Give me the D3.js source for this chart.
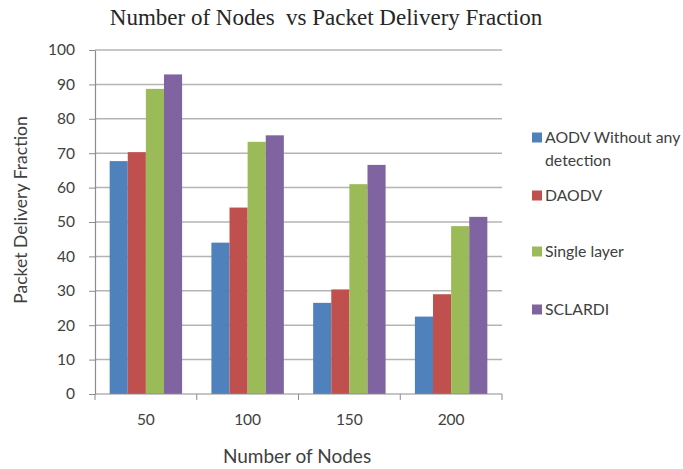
<!DOCTYPE html>
<html>
<head>
<meta charset="utf-8">
<script src="https://cdn.jsdelivr.net/npm/d3@7"></script>
<style>
  html, body { margin: 0; padding: 0; background: #fff; }
  svg { display: block; }
</style>
</head>
<body>
<svg id="chart" width="683" height="469"></svg>
<script>
// Packet delivery fraction per node count, four routing schemes
const categories = ["50", "100", "150", "200"];
const seriesNames = ["AODV Without any detection", "DAODV", "Single layer", "SCLARDI"];
const aodv    = [67.7, 44.0, 26.5, 22.5];
const daodv   = [70.3, 54.2, 30.4, 29.0];
const single  = [88.7, 73.3, 61.0, 48.8];
const sclardi = [92.9, 75.2, 66.6, 51.5];
const yTicks  = [0, 10, 20, 30, 40, 50, 60, 70, 80, 90, 100];
const colors  = ["#4F81BD", "#C0504D", "#9BBB59", "#8064A2"];

const values = [aodv, daodv, single, sclardi];

const svg = d3.select("#chart");
const plot = { left: 95, right: 502, top: 50, bottom: 394 };
const sans = "Lato, 'Open Sans', sans-serif";

const x0 = d3.scaleBand()
  .domain(categories)
  .range([plot.left, plot.right])
  .paddingInner(0.288)
  .paddingOuter(0.144);

const x1 = d3.scaleBand()
  .domain(d3.range(seriesNames.length))
  .range([0, x0.bandwidth()])
  .padding(0);

const y = d3.scaleLinear().domain([0, 100]).range([plot.bottom, plot.top]);

// Horizontal gridlines
svg.append("g")
  .selectAll("line")
  .data(yTicks.filter(t => t > 0))
  .join("line")
  .attr("x1", plot.left)
  .attr("x2", plot.right)
  .attr("y1", d => y(d))
  .attr("y2", d => y(d))
  .attr("stroke", "#b4b4b4")
  .attr("stroke-width", 1.5);

// Bars
const groups = svg.append("g")
  .selectAll("g")
  .data(categories)
  .join("g")
  .attr("transform", d => `translate(${x0(d)},0)`);

groups.selectAll("rect")
  .data((c, ci) => values.map((s, si) => ({ si, v: s[ci] })))
  .join("rect")
  .attr("x", d => x1(d.si))
  .attr("width", x1.bandwidth())
  .attr("y", d => y(d.v))
  .attr("height", d => y(0) - y(d.v))
  .attr("fill", d => colors[d.si]);

// Y axis
const yAxis = svg.append("g")
  .attr("transform", `translate(${plot.left},0)`)
  .call(d3.axisLeft(y).tickValues(yTicks).tickSize(6).tickPadding(14).tickSizeOuter(0));
yAxis.select(".domain").attr("stroke", "#8c8c8c").attr("stroke-width", 1.2);
yAxis.selectAll(".tick line").attr("stroke", "#8c8c8c");
yAxis.selectAll("text")
  .attr("font-family", sans)
  .attr("font-size", 15.5)
  .attr("fill", "#404040");

// X axis: line with ticks between categories
const xAxisG = svg.append("g");
xAxisG.append("line")
  .attr("x1", plot.left).attr("x2", plot.right)
  .attr("y1", plot.bottom).attr("y2", plot.bottom)
  .attr("stroke", "#8c8c8c").attr("stroke-width", 1.2);
const step = x0.step();
xAxisG.selectAll("line.sep")
  .data(d3.range(categories.length + 1))
  .join("line")
  .attr("class", "sep")
  .attr("x1", i => plot.left + i * step)
  .attr("x2", i => plot.left + i * step)
  .attr("y1", plot.bottom)
  .attr("y2", plot.bottom + 6)
  .attr("stroke", "#8c8c8c");
xAxisG.selectAll("text")
  .data(categories)
  .join("text")
  .attr("x", d => x0(d) + x0.bandwidth() / 2)
  .attr("y", plot.bottom + 31)
  .attr("text-anchor", "middle")
  .attr("font-family", sans)
  .attr("font-size", 15.5)
  .attr("fill", "#404040")
  .text(d => d);

// Title
svg.append("text")
  .attr("x", 326)
  .attr("y", 25)
  .attr("text-anchor", "middle")
  .attr("font-family", "'Liberation Serif', 'Times New Roman', serif")
  .attr("font-size", 23)
  .attr("fill", "#262626")
  .attr("xml:space", "preserve")
  .text("Number of Nodes  vs Packet Delivery Fraction");

// Axis titles
svg.append("text")
  .attr("x", 297)
  .attr("y", 463)
  .attr("text-anchor", "middle")
  .attr("font-family", sans)
  .attr("font-size", 19)
  .attr("fill", "#404040")
  .text("Number of Nodes");

svg.append("text")
  .attr("transform", `translate(27,210) rotate(-90)`)
  .attr("text-anchor", "middle")
  .attr("font-family", sans)
  .attr("font-size", 17.6)
  .attr("fill", "#404040")
  .text("Packet Delivery Fraction");

// Legend
const legendRows = [
  { lines: ["AODV Without any", "detection"], y: 143 },
  { lines: ["DAODV"], y: 201 },
  { lines: ["Single layer"], y: 257 },
  { lines: ["SCLARDI"], y: 315 }
];
const legend = svg.append("g");
legendRows.forEach((row, i) => {
  legend.append("rect")
    .attr("x", 532)
    .attr("y", row.y - 10.5)
    .attr("width", 10)
    .attr("height", 10)
    .attr("fill", colors[i]);
  const t = legend.append("text")
    .attr("x", 545)
    .attr("y", row.y)
    .attr("font-family", sans)
    .attr("font-size", 15.8)
    .attr("fill", "#404040");
  row.lines.forEach((ln, j) => {
    t.append("tspan").attr("x", 545).attr("dy", j === 0 ? 0 : 23).text(ln);
  });
});
</script>
</body>
</html>
